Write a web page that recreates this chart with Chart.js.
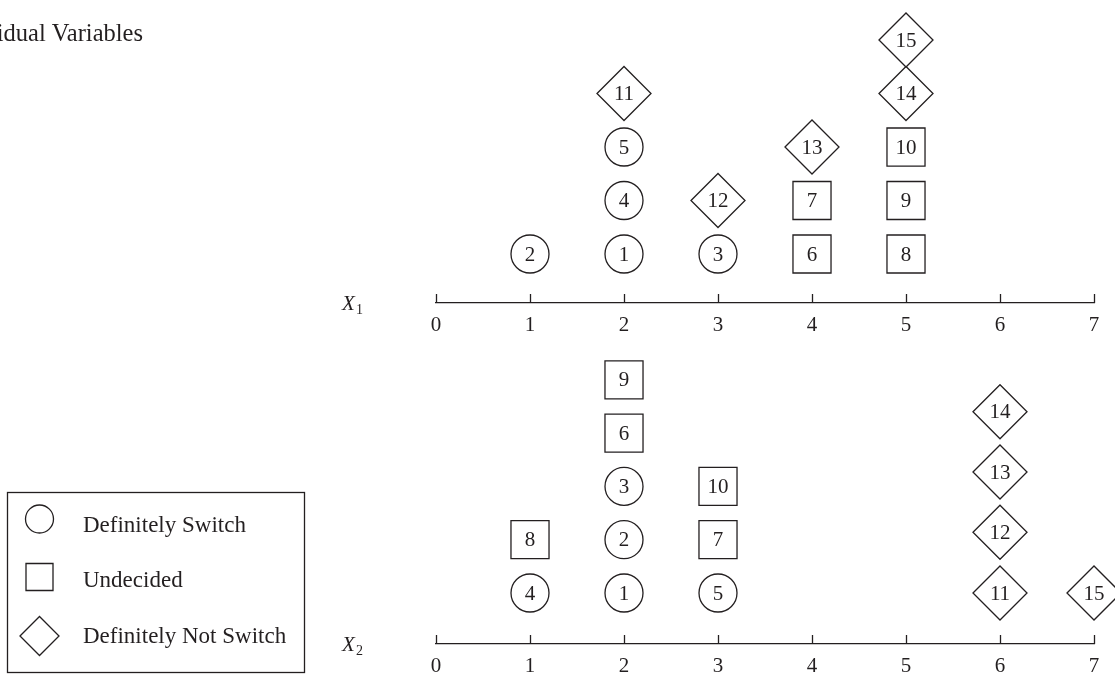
<!DOCTYPE html>
<html>
<head>
<meta charset="utf-8">
<title>Individual Variables</title>
<script src="https://cdn.jsdelivr.net/npm/chart.js@4.4.0/dist/chart.umd.min.js"></script>
<style>
    html, body { margin: 0; padding: 0; background: #fff; }
    #wrap { position: relative; width: 1115px; height: 677px; overflow: hidden; }
    #chart-x1 { position: absolute; left: 0; top: 0; }
    #chart-x2 { position: absolute; left: 0; top: 345px; }
</style>
</head>
<body>
<div id="wrap">
    <canvas id="chart-x1" width="1115" height="345"></canvas>
    <canvas id="chart-x2" width="1115" height="332"></canvas>
</div>
<script>
// respondents, grouped by answer; level = position in the stack above the axis
const switchIds = [1, 2, 3, 4, 5];
const switchX1 = [2, 1, 3, 2, 2];
const switchLevelX1 = [1, 1, 1, 2, 3];
const switchX2 = [2, 2, 2, 1, 3];
const switchLevelX2 = [1, 2, 3, 1, 1];

const undecidedIds = [6, 7, 8, 9, 10];
const undecidedX1 = [4, 4, 5, 5, 5];
const undecidedLevelX1 = [1, 2, 1, 2, 3];
const undecidedX2 = [2, 3, 1, 2, 3];
const undecidedLevelX2 = [4, 2, 2, 5, 3];

const notSwitchIds = [11, 12, 13, 14, 15];
const notSwitchX1 = [2, 3, 4, 5, 5];
const notSwitchLevelX1 = [4, 2, 3, 4, 5];
const notSwitchX2 = [6, 6, 6, 6, 7];
const notSwitchLevelX2 = [1, 2.14, 3.27, 4.4, 1];

const axisTicks = [0, 1, 2, 3, 4, 5, 6, 7];
const groupLabels = ['Definitely Switch', 'Undecided', 'Definitely Not Switch'];
const panelTitle = 'Individual Variables';

const INK = '#231f20';
const SERIF = '"Liberation Serif", "Times New Roman", serif';

function points(ids, xs, levels) {
    return ids.map((id, i) => ({ x: xs[i], y: levels[i], id: id }));
}

function marks(label, data, style, radius) {
    return {
        label: label,
        data: data,
        pointStyle: style,
        pointRadius: radius,
        pointHoverRadius: radius,
        pointBackgroundColor: '#fff',
        pointBorderColor: INK,
        pointBorderWidth: 1.3,
        pointHoverBorderWidth: 1.3,
        showLine: false,
        clip: false
    };
}

// number written inside every mark
const markNumbers = {
    id: 'markNumbers',
    afterDatasetsDraw(chart) {
        const ctx = chart.ctx;
        ctx.save();
        ctx.font = '21px ' + SERIF;
        ctx.fillStyle = INK;
        ctx.textAlign = 'center';
        ctx.textBaseline = 'middle';
        chart.data.datasets.forEach((ds, di) => {
            chart.getDatasetMeta(di).data.forEach((pt, i) => {
                ctx.fillText(String(ds.data[i].id), pt.x, pt.y + 1);
            });
        });
        ctx.restore();
    }
};

// tick marks point up from the axis line, plus the X1 / X2 name
const axisDecor = {
    id: 'axisDecor',
    afterDraw(chart, args, opts) {
        const s = chart.scales.x;
        const ctx = chart.ctx;
        ctx.save();
        ctx.strokeStyle = INK;
        ctx.lineWidth = 1.3;
        s.ticks.forEach(t => {
            const px = Math.round(s.getPixelForValue(t.value)) + 0.5;
            ctx.beginPath();
            ctx.moveTo(px, s.top);
            ctx.lineTo(px, s.top - 9);
            ctx.stroke();
        });
        ctx.fillStyle = INK;
        ctx.textBaseline = 'alphabetic';
        ctx.font = 'italic 21px ' + SERIF;
        ctx.fillText('X', 342, s.top + 7);
        ctx.font = '14px ' + SERIF;
        ctx.fillText(opts.sub, 356, s.top + 11);
        ctx.restore();
    }
};

const panelHeading = {
    id: 'panelHeading',
    afterDraw(chart) {
        const ctx = chart.ctx;
        ctx.save();
        ctx.font = '24.5px ' + SERIF;
        ctx.fillStyle = INK;
        ctx.textAlign = 'right';
        ctx.fillText(panelTitle, 143, 41);
        ctx.restore();
    }
};

// boxed key in the lower left corner
const boxKey = {
    id: 'boxKey',
    afterDraw(chart) {
        const ctx = chart.ctx;
        ctx.save();
        ctx.strokeStyle = INK;
        ctx.lineWidth = 1.3;
        ctx.strokeRect(7.5, 147.5, 297, 180);
        const cx = 39.5;
        const rows = [174, 232, 291];
        rows.forEach((cy, i) => {
            ctx.beginPath();
            if (i === 0) {
                ctx.arc(cx, cy, 14, 0, Math.PI * 2);
            } else if (i === 1) {
                ctx.rect(cx - 13.5, cy - 13.5, 27, 27);
            } else {
                ctx.moveTo(cx - 19.5, cy);
                ctx.lineTo(cx, cy - 19.5);
                ctx.lineTo(cx + 19.5, cy);
                ctx.lineTo(cx, cy + 19.5);
                ctx.closePath();
            }
            ctx.stroke();
        });
        ctx.font = '23px ' + SERIF;
        ctx.fillStyle = INK;
        ctx.fillText(groupLabels[0], 83, 187);
        ctx.fillText(groupLabels[1], 83, 242);
        ctx.fillText(groupLabels[2], 83, 298);
        ctx.restore();
    }
};

function buildPanel(canvasId, datasets, sub, yMin, yMax, axisHeight, extra) {
    return new Chart(document.getElementById(canvasId), {
        type: 'scatter',
        data: { datasets: datasets },
        plugins: [markNumbers, axisDecor].concat(extra),
        options: {
            responsive: false,
            animation: false,
            events: [],
            layout: { autoPadding: false, padding: { left: 436, right: 21, top: 0, bottom: 0 } },
            plugins: {
                legend: { display: false },
                tooltip: { enabled: false },
                axisDecor: { sub: sub }
            },
            scales: {
                x: {
                    type: 'linear',
                    min: 0,
                    max: 7,
                    afterBuildTicks: s => { s.ticks = axisTicks.map(v => ({ value: v })); },
                    afterFit: s => { s.height = axisHeight; },
                    grid: { display: false, drawTicks: false },
                    border: { display: true, color: INK, width: 1.3 },
                    ticks: {
                        color: INK,
                        font: { family: SERIF, size: 21 },
                        padding: 10,
                        maxRotation: 0,
                        autoSkip: false,
                        callback: v => String(v)
                    }
                },
                y: { type: 'linear', display: false, min: yMin, max: yMax }
            }
        }
    });
}

document.addEventListener('DOMContentLoaded', () => {
    buildPanel('chart-x1', [
        marks(groupLabels[0], points(switchIds, switchX1, switchLevelX1), 'circle', 19),
        marks(groupLabels[1], points(undecidedIds, undecidedX1, undecidedLevelX1), 'rect', 26.9),
        marks(groupLabels[2], points(notSwitchIds, notSwitchX1, notSwitchLevelX1), 'rectRot', 27)
    ], '1', 0.084, 5.748, 42, [panelHeading]);

    buildPanel('chart-x2', [
        marks(groupLabels[0], points(switchIds, switchX2, switchLevelX2), 'circle', 19),
        marks(groupLabels[1], points(undecidedIds, undecidedX2, undecidedLevelX2), 'rect', 26.9),
        marks(groupLabels[2], points(notSwitchIds, notSwitchX2, notSwitchLevelX2), 'rectRot', 27)
    ], '2', 0.043, 5.653, 33, [boxKey]);
});
</script>
</body>
</html>
